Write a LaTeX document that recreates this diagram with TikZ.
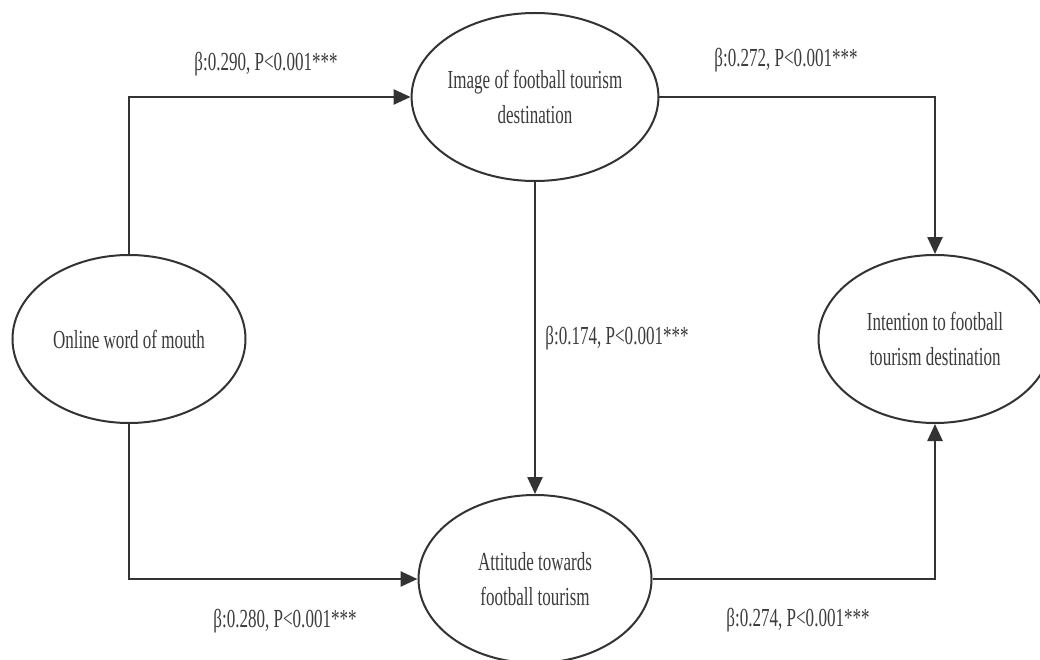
\documentclass[tikz,border=0pt]{standalone}
\usepackage{fontspec}
\setmainfont[FakeStretch=0.655]{Liberation Serif}
\usetikzlibrary{shapes.geometric,arrows.meta}
\definecolor{linec}{HTML}{333333}
\definecolor{textc}{HTML}{3C3C3C}
\begin{document}
\begin{tikzpicture}[x=1pt,y=-1pt,
  every node/.style={text=textc,font=\fontsize{26}{35}\selectfont},
  construct/.style={ellipse,draw=linec,line width=2pt,inner sep=0pt,
    minimum width=233pt,minimum height=168pt,align=center},
  conn/.style={draw=linec,line width=2.5pt,
    -{Triangle[length=17pt,width=15pt]}},
  coef/.style={inner sep=0pt}]
\clip (0,0) rectangle (1040,660);
\fill[white] (0,0) rectangle (1040,660);
\node[construct] (L) at (129,339) {Online word of mouth};
\node[construct] (T) at (535,97) {Image of football tourism\\destination};
\node[construct] (B) at (535,579) {Attitude towards\\football tourism};
\node[construct] (R) at (935,339) {Intention to football\\tourism destination};
\draw[conn] (L.north) |- (T.west);
\draw[conn] (L.south) |- (B.west);
\draw[conn] (T.east) -| (R.north);
\draw[conn] (B.east) -| (R.south);
\draw[conn] (T.south) -- (B.north);
\node[coef] (c1) at (266,64) {β:0.290, P<0.001***};
\node[coef] (c2) at (786,60) {β:0.272, P<0.001***};
\node[coef] (c3) at (617,338) {β:0.174, P<0.001***};
\node[coef] (c4) at (285,621) {β:0.280, P<0.001***};
\node[coef] (c5) at (798,620) {β:0.274, P<0.001***};
\end{tikzpicture}
\end{document}
